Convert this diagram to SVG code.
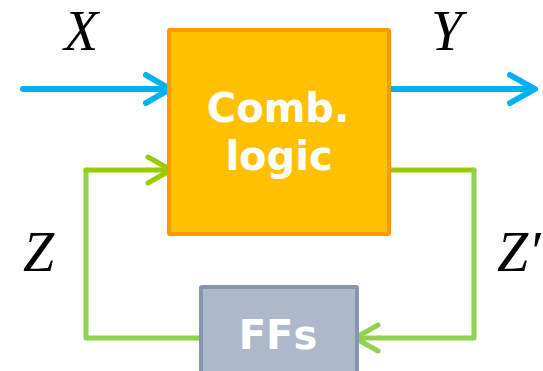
<svg xmlns="http://www.w3.org/2000/svg" width="543" height="371" viewBox="0 0 543 371">
<style>
.lbl{font-family:"Liberation Serif","DejaVu Serif",serif;font-style:italic;font-size:56px;fill:#000}
.nt{font-family:"DejaVu Sans",Verdana,sans-serif;font-weight:bold;font-size:40px;fill:#fff;text-anchor:middle}
.blue{stroke:#00B0F0;stroke-width:6;fill:none;stroke-linecap:round;stroke-linejoin:round}
.g1{stroke:#99CC00;stroke-width:5;fill:none;stroke-linecap:round;stroke-linejoin:round}
.g2{stroke:#92D050;stroke-width:5;fill:none;stroke-linecap:round;stroke-linejoin:round}
</style>
<rect width="543" height="371" fill="#fff"/>
<g id="connectors">
<line class="blue" x1="23" y1="89" x2="169" y2="89"/>
<polyline class="blue" points="146,75 170,89 146,103"/>
<line class="blue" x1="390" y1="89" x2="534" y2="89"/>
<polyline class="blue" points="510,75 535,89 510,103"/>
<polyline class="g2" points="199,338 86,338 86,170"/>
<polyline class="g1" points="86,170 170,170"/>
<polyline class="g1" points="148,157 171,170 148,183"/>
<polyline class="g1" points="390,170 474,170"/>
<polyline class="g2" points="474,170 474,338 356,338"/>
<polyline class="g2" points="378,325 355,338 378,351"/>
</g>
<g id="comb">
<rect x="169" y="30" width="220" height="204" fill="#FFC000" stroke="#FF9900" stroke-width="4" rx="1"/>
<text class="nt" x="278" y="122">Comb.</text>
<text class="nt" x="279" y="170">logic</text>
</g>
<g id="ffs">
<rect x="201" y="287" width="156" height="92" fill="#ADB9CA" stroke="#8497B0" stroke-width="4" rx="1"/>
<text class="nt" x="278" y="349">FFs</text>
</g>
<g id="labels">
<text class="lbl" x="64" y="50">X</text>
<text class="lbl" x="431" y="50">Y</text>
<text class="lbl" x="23" y="271">Z</text>
<text class="lbl" x="497" y="271">Z′</text>
</g>
</svg>
